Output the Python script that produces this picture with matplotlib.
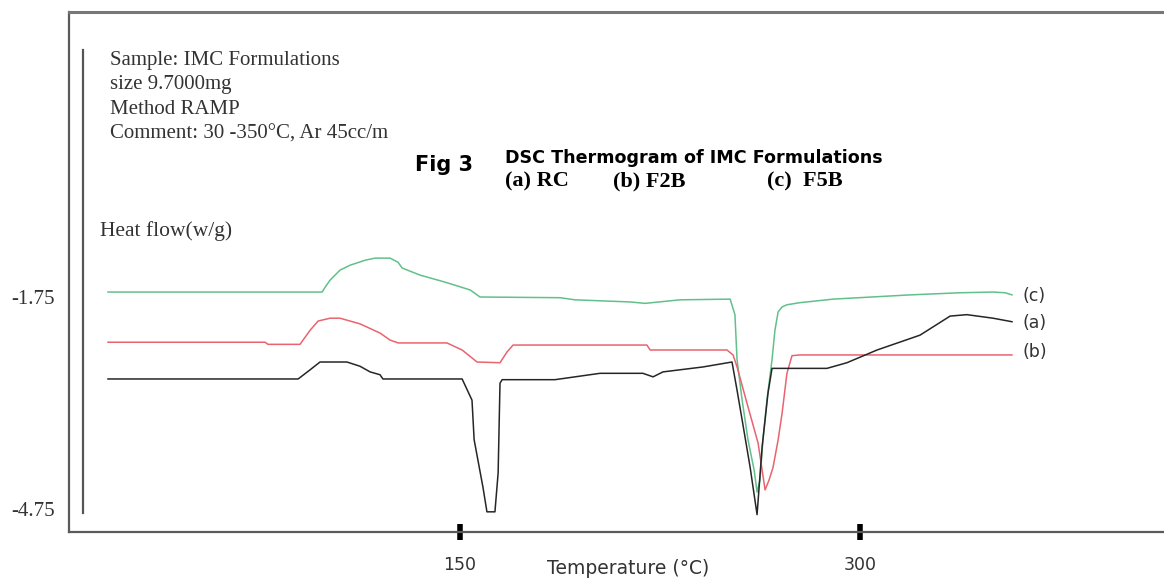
import matplotlib
matplotlib.use("Agg")
import matplotlib.pyplot as plt
from matplotlib.lines import Line2D

# DSC thermogram data: temperature (degC) and heat flow (W/g)
temp_c = [18, 98.3, 99.8, 101.3, 105, 108.8, 114.4, 118.1, 123.8, 126.8, 128.3, 135,
          144.4, 153.8, 157.5, 187.5, 193.1, 213.8, 219.4, 232.5, 251.3, 253.1, 253.9,
          255.8, 258, 260.3, 261.4, 262.5, 263.6, 265.1, 267, 268.1, 269.3, 270.8,
          272.6, 277.5, 290, 318.8, 337.5, 349.9, 354.4, 357]
flow_c = [-1.68, -1.68, -1.59, -1.51, -1.37, -1.30, -1.23, -1.20, -1.20, -1.26, -1.34, -1.44,
          -1.54, -1.65, -1.75, -1.76, -1.79, -1.82, -1.84, -1.79, -1.78, -2.00, -2.64,
          -3.21, -3.77, -4.20, -4.51, -4.34, -3.77, -3.21, -2.64, -2.22, -1.96, -1.89,
          -1.86, -1.83, -1.78, -1.72, -1.69, -1.68, -1.69, -1.72]

temp_b = [18, 76.9, 78, 90, 93.8, 96.8, 101.3, 105, 112.5, 120, 123.8, 126.8, 145.1,
          150.8, 156.4, 165, 167.6, 169.9, 220.1, 221.3, 250.1, 252.4, 253.9, 257.6,
          261.8, 263.3, 264.4, 265.9, 267.4, 269.3, 270.8, 272.6, 274.5, 277.5, 357]
flow_b = [-2.39, -2.39, -2.42, -2.42, -2.22, -2.09, -2.05, -2.05, -2.13, -2.26, -2.36, -2.40, -2.40,
          -2.50, -2.67, -2.68, -2.53, -2.43, -2.43, -2.50, -2.50, -2.57, -2.74, -3.25,
          -3.82, -4.20, -4.48, -4.34, -4.16, -3.77, -3.39, -2.83, -2.58, -2.57, -2.57]

temp_a = [18, 89.3, 93.8, 97.5, 107.6, 112.5, 116.3, 120, 121.1, 150.8, 154.5, 155.3,
          158.6, 160.1, 163.1, 164.3, 165, 165.8, 185.6, 193.1, 202.5, 218.6, 222.4,
          226.1, 241.1, 252, 253.9, 255.8, 258.8, 261.4, 263.3, 265.5, 267, 287.6,
          295.1, 306.4, 322.5, 333.8, 340.1, 349.9, 357]
flow_a = [-2.91, -2.91, -2.78, -2.67, -2.67, -2.73, -2.81, -2.85, -2.91, -2.91, -3.21, -3.77,
          -4.44, -4.79, -4.79, -4.24, -2.97, -2.92, -2.92, -2.88, -2.83, -2.83, -2.88,
          -2.81, -2.74, -2.67, -3.07, -3.49, -4.16, -4.83, -3.87, -3.11, -2.76, -2.76,
          -2.68, -2.50, -2.29, -2.02, -2.00, -2.05, -2.10]

x_ticks = [150, 300]
y_ticks = [-1.75, -4.75]
curve_labels = ["(c)", "(a)", "(b)"]

W, H = 1164, 578


def fx(px):
    return px / W


def fy(py):
    return 1 - py / H


fig = plt.figure(figsize=(W / 100, H / 100), dpi=100)
ax = fig.add_axes([fx(69), fy(532), fx(1164) - fx(69), fy(12) - fy(532)])

ax.plot(temp_c, flow_c, color="#62c08a", lw=1.1)
ax.plot(temp_b, flow_b, color="#e8646e", lw=1.1)
ax.plot(temp_a, flow_a, color="#262626", lw=1.1)

ax.set_xlim(3.375, 414)
ax.set_ylim(-5.0755, 2.283)

for s in ["left", "bottom"]:
    ax.spines[s].set_color("#5a5a5a")
    ax.spines[s].set_linewidth(1.6)
ax.spines["top"].set_color("#777777")
ax.spines["top"].set_linewidth(2.2)
ax.spines["right"].set_visible(False)

serif = "Liberation Serif"
ax.set_xticks(x_ticks)
ax.set_xticklabels([str(t) for t in x_ticks], fontsize=12.5, color="#333333",
                   family="DejaVu Sans")
ax.tick_params(axis="x", direction="inout", length=12, width=4, color="black", pad=11)
ax.set_yticks(y_ticks)
ax.set_yticklabels([f"{v:.2f}" for v in y_ticks], fontsize=15, color="#333333",
                   family=serif)
ax.tick_params(axis="y", length=0, pad=10)

# inner y axis line
fig.add_artist(Line2D([fx(83), fx(83)], [fy(50), fy(513)], transform=fig.transFigure,
                      color="#555555", lw=1.6))

# header block
header = ["Sample: IMC Formulations", "size 9.7000mg", "Method RAMP",
          "Comment: 30 -350\u00b0C, Ar 45cc/m"]
for i, line in enumerate(header):
    fig.text(fx(110), fy(65 + i * 24.5), line, family=serif, fontsize=15,
             color="#333333", va="baseline")
fig.text(fx(100), fy(236), "Heat flow(w/g)", family=serif, fontsize=15.5,
         color="#333333", va="baseline")

fig.text(fx(415), fy(171), "Fig 3", family="DejaVu Sans", weight="bold",
         fontsize=15, va="baseline")
fig.text(fx(505), fy(163), "DSC Thermogram of IMC Formulations", family="DejaVu Sans",
         weight="bold", fontsize=12.6, va="baseline")
for px, lab in zip([505, 613, 767], ["(a) RC", "(b) F2B", "(c)  F5B"]):
    fig.text(fx(px), fy(186), lab, family=serif, weight="bold", fontsize=16,
             va="baseline")

for py, lab in zip([296, 323, 352], curve_labels):
    fig.text(fx(1022), fy(py), lab, family="DejaVu Sans", fontsize=12.5,
             color="#333333", va="center")

fig.text(fx(628), fy(568), "Temperature (\u00b0C)", family="DejaVu Sans", fontsize=13.5,
         color="#333333", ha="center", va="center")

plt.savefig("out.png", dpi=100)
